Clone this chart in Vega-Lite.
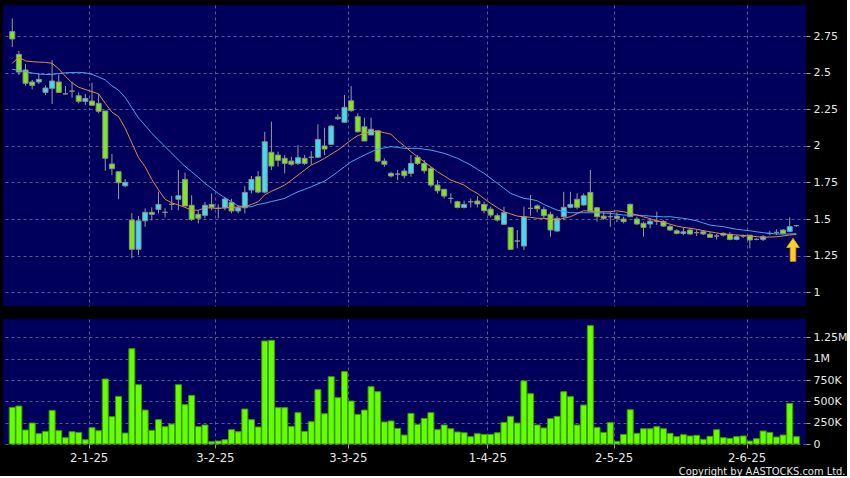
{
"$schema": "https://vega.github.io/schema/vega-lite/v6.json",
"background": "black",
"padding": {"left": 3, "top": 5, "right": 0, "bottom": 0},
"spacing": 13,
"config": {
  "view": {"fill": "#00005c", "stroke": null},
  "axis": {"gridColor": "#5a5a8e", "gridDash": [3, 3], "gridWidth": 1, "labelColor": "#e6e6e6", "tickColor": "#9a9a9a", "domain": false, "labelFont": "DejaVu Sans", "labelFontSize": 11}
},
"datasets": {"k": [
{"i":0,"o":2.78,"h":2.87,"l":2.675,"c":2.73,"v":429000,"m1":2.564,"m2":2.523},
{"i":1,"o":2.625,"h":2.648,"l":2.484,"c":2.504,"v":445000,"m1":2.605,"m2":2.515},
{"i":2,"o":2.518,"h":2.559,"l":2.41,"c":2.427,"v":164000,"m1":2.58,"m2":2.506},
{"i":3,"o":2.436,"h":2.45,"l":2.386,"c":2.413,"v":246000,"m1":2.575,"m2":2.498},
{"i":4,"o":2.436,"h":2.495,"l":2.422,"c":2.454,"v":121000,"m1":2.572,"m2":2.49},
{"i":5,"o":2.365,"h":2.413,"l":2.347,"c":2.395,"v":148000,"m1":2.57,"m2":2.488},
{"i":6,"o":2.393,"h":2.586,"l":2.286,"c":2.443,"v":394000,"m1":2.564,"m2":2.488},
{"i":7,"o":2.436,"h":2.488,"l":2.365,"c":2.365,"v":156000,"m1":2.525,"m2":2.494},
{"i":8,"o":2.355,"h":2.408,"l":2.35,"c":2.355,"v":74000,"m1":2.475,"m2":2.499},
{"i":9,"o":2.374,"h":2.438,"l":2.329,"c":2.374,"v":144000,"m1":2.43,"m2":2.501},
{"i":10,"o":2.342,"h":2.365,"l":2.29,"c":2.304,"v":136000,"m1":2.40,"m2":2.502},
{"i":11,"o":2.304,"h":2.354,"l":2.28,"c":2.324,"v":50000,"m1":2.385,"m2":2.499},
{"i":12,"o":2.306,"h":2.431,"l":2.277,"c":2.277,"v":191000,"m1":2.37,"m2":2.488},
{"i":13,"o":2.29,"h":2.354,"l":2.222,"c":2.236,"v":156000,"m1":2.355,"m2":2.47},
{"i":14,"o":2.238,"h":2.238,"l":1.83,"c":1.915,"v":762000,"m1":2.29,"m2":2.45},
{"i":15,"o":1.876,"h":1.944,"l":1.80,"c":1.844,"v":320000,"m1":2.23,"m2":2.41},
{"i":16,"o":1.823,"h":1.823,"l":1.635,"c":1.748,"v":558000,"m1":2.20,"m2":2.38},
{"i":17,"o":1.727,"h":1.773,"l":1.717,"c":1.751,"v":129000,"m1":2.12,"m2":2.33},
{"i":18,"o":1.493,"h":1.541,"l":1.232,"c":1.293,"v":1117000,"m1":2.02,"m2":2.26},
{"i":19,"o":1.293,"h":1.52,"l":1.254,"c":1.488,"v":695000,"m1":1.92,"m2":2.19},
{"i":20,"o":1.488,"h":1.573,"l":1.447,"c":1.546,"v":398000,"m1":1.857,"m2":2.14},
{"i":21,"o":1.546,"h":1.58,"l":1.49,"c":1.532,"v":160000,"m1":1.77,"m2":2.085},
{"i":22,"o":1.566,"h":1.686,"l":1.539,"c":1.60,"v":285000,"m1":1.70,"m2":2.04},
{"i":23,"o":1.546,"h":1.573,"l":1.512,"c":1.546,"v":203000,"m1":1.635,"m2":1.994},
{"i":24,"o":1.60,"h":1.657,"l":1.562,"c":1.60,"v":234000,"m1":1.61,"m2":1.95},
{"i":25,"o":1.635,"h":1.835,"l":1.56,"c":1.659,"v":695000,"m1":1.596,"m2":1.903},
{"i":26,"o":1.771,"h":1.817,"l":1.589,"c":1.589,"v":461000,"m1":1.58,"m2":1.86},
{"i":27,"o":1.594,"h":1.662,"l":1.486,"c":1.498,"v":570000,"m1":1.56,"m2":1.823},
{"i":28,"o":1.532,"h":1.56,"l":1.47,"c":1.505,"v":203000,"m1":1.56,"m2":1.785},
{"i":29,"o":1.525,"h":1.616,"l":1.505,"c":1.594,"v":223000,"m1":1.577,"m2":1.744},
{"i":30,"o":1.60,"h":1.675,"l":1.56,"c":1.58,"v":27000,"m1":1.575,"m2":1.71},
{"i":31,"o":1.573,"h":1.60,"l":1.505,"c":1.573,"v":35000,"m1":1.573,"m2":1.675},
{"i":32,"o":1.577,"h":1.652,"l":1.56,"c":1.637,"v":50000,"m1":1.576,"m2":1.645},
{"i":33,"o":1.614,"h":1.639,"l":1.539,"c":1.555,"v":168000,"m1":1.58,"m2":1.618},
{"i":34,"o":1.555,"h":1.589,"l":1.539,"c":1.577,"v":144000,"m1":1.582,"m2":1.59},
{"i":35,"o":1.577,"h":1.725,"l":1.539,"c":1.682,"v":410000,"m1":1.584,"m2":1.584},
{"i":36,"o":1.698,"h":1.794,"l":1.675,"c":1.771,"v":285000,"m1":1.60,"m2":1.584},
{"i":37,"o":1.789,"h":1.827,"l":1.675,"c":1.684,"v":199000,"m1":1.618,"m2":1.60},
{"i":38,"o":1.684,"h":2.096,"l":1.675,"c":2.028,"v":1207000,"m1":1.665,"m2":1.607},
{"i":39,"o":1.956,"h":2.165,"l":1.835,"c":1.862,"v":1215000,"m1":1.69,"m2":1.62},
{"i":40,"o":1.937,"h":1.96,"l":1.857,"c":1.901,"v":426000,"m1":1.71,"m2":1.63},
{"i":41,"o":1.915,"h":1.937,"l":1.812,"c":1.88,"v":426000,"m1":1.732,"m2":1.641},
{"i":42,"o":1.896,"h":1.925,"l":1.864,"c":1.874,"v":207000,"m1":1.765,"m2":1.665},
{"i":43,"o":1.88,"h":2.005,"l":1.869,"c":1.919,"v":367000,"m1":1.80,"m2":1.686},
{"i":44,"o":1.915,"h":1.937,"l":1.869,"c":1.88,"v":148000,"m1":1.835,"m2":1.703},
{"i":45,"o":1.922,"h":1.964,"l":1.869,"c":1.922,"v":261000,"m1":1.869,"m2":1.72},
{"i":46,"o":1.922,"h":2.147,"l":1.922,"c":2.044,"v":637000,"m1":1.89,"m2":1.74},
{"i":47,"o":1.999,"h":2.124,"l":1.937,"c":1.978,"v":355000,"m1":1.915,"m2":1.759},
{"i":48,"o":2.01,"h":2.142,"l":2.01,"c":2.135,"v":789000,"m1":1.943,"m2":1.79},
{"i":49,"o":2.185,"h":2.215,"l":2.176,"c":2.195,"v":543000,"m1":1.971,"m2":1.823},
{"i":50,"o":2.161,"h":2.347,"l":2.161,"c":2.263,"v":848000,"m1":2.005,"m2":1.857},
{"i":51,"o":2.308,"h":2.408,"l":2.233,"c":2.24,"v":504000,"m1":2.04,"m2":1.891},
{"i":52,"o":2.199,"h":2.222,"l":2.092,"c":2.096,"v":347000,"m1":2.07,"m2":1.914},
{"i":53,"o":2.13,"h":2.192,"l":2.033,"c":2.033,"v":398000,"m1":2.085,"m2":1.937},
{"i":54,"o":2.074,"h":2.192,"l":2.074,"c":2.113,"v":672000,"m1":2.096,"m2":1.958},
{"i":55,"o":2.103,"h":2.103,"l":1.887,"c":1.896,"v":613000,"m1":2.10,"m2":1.978},
{"i":56,"o":1.896,"h":1.915,"l":1.857,"c":1.874,"v":258000,"m1":2.09,"m2":1.986},
{"i":57,"o":1.812,"h":1.823,"l":1.785,"c":1.794,"v":270000,"m1":2.079,"m2":1.994},
{"i":58,"o":1.807,"h":1.835,"l":1.766,"c":1.807,"v":183000,"m1":2.035,"m2":1.99},
{"i":59,"o":1.828,"h":1.846,"l":1.778,"c":1.796,"v":105000,"m1":2.0,"m2":1.983},
{"i":60,"o":1.812,"h":1.937,"l":1.789,"c":1.88,"v":359000,"m1":1.96,"m2":1.983},
{"i":61,"o":1.922,"h":1.937,"l":1.869,"c":1.88,"v":230000,"m1":1.925,"m2":1.983},
{"i":62,"o":1.88,"h":1.903,"l":1.812,"c":1.83,"v":300000,"m1":1.891,"m2":1.977},
{"i":63,"o":1.846,"h":1.857,"l":1.717,"c":1.732,"v":367000,"m1":1.857,"m2":1.971},
{"i":64,"o":1.732,"h":1.766,"l":1.675,"c":1.693,"v":168000,"m1":1.823,"m2":1.96},
{"i":65,"o":1.703,"h":1.703,"l":1.641,"c":1.657,"v":223000,"m1":1.795,"m2":1.949},
{"i":66,"o":1.641,"h":1.675,"l":1.607,"c":1.641,"v":179000,"m1":1.766,"m2":1.932},
{"i":67,"o":1.618,"h":1.625,"l":1.573,"c":1.579,"v":141000,"m1":1.75,"m2":1.915},
{"i":68,"o":1.579,"h":1.625,"l":1.573,"c":1.60,"v":132000,"m1":1.732,"m2":1.892},
{"i":69,"o":1.618,"h":1.641,"l":1.579,"c":1.618,"v":86000,"m1":1.70,"m2":1.869},
{"i":70,"o":1.623,"h":1.657,"l":1.579,"c":1.603,"v":121000,"m1":1.675,"m2":1.84},
{"i":71,"o":1.60,"h":1.618,"l":1.539,"c":1.557,"v":113000,"m1":1.64,"m2":1.812},
{"i":72,"o":1.568,"h":1.584,"l":1.512,"c":1.527,"v":113000,"m1":1.607,"m2":1.778},
{"i":73,"o":1.523,"h":1.539,"l":1.482,"c":1.493,"v":132000,"m1":1.578,"m2":1.744},
{"i":74,"o":1.464,"h":1.584,"l":1.464,"c":1.543,"v":253000,"m1":1.55,"m2":1.71},
{"i":75,"o":1.443,"h":1.443,"l":1.288,"c":1.293,"v":324000,"m1":1.535,"m2":1.675},
{"i":76,"o":1.35,"h":1.425,"l":1.30,"c":1.35,"v":246000,"m1":1.52,"m2":1.658},
{"i":77,"o":1.316,"h":1.584,"l":1.288,"c":1.516,"v":739000,"m1":1.515,"m2":1.641},
{"i":78,"o":1.573,"h":1.664,"l":1.523,"c":1.573,"v":590000,"m1":1.512,"m2":1.635},
{"i":79,"o":1.59,"h":1.60,"l":1.545,"c":1.57,"v":223000,"m1":1.505,"m2":1.625},
{"i":80,"o":1.566,"h":1.584,"l":1.505,"c":1.523,"v":188000,"m1":1.505,"m2":1.60},
{"i":81,"o":1.532,"h":1.55,"l":1.379,"c":1.425,"v":297000,"m1":1.50,"m2":1.58},
{"i":82,"o":1.418,"h":1.52,"l":1.413,"c":1.505,"v":324000,"m1":1.493,"m2":1.561},
{"i":83,"o":1.516,"h":1.686,"l":1.493,"c":1.58,"v":613000,"m1":1.505,"m2":1.552},
{"i":84,"o":1.58,"h":1.686,"l":1.573,"c":1.60,"v":555000,"m1":1.516,"m2":1.543},
{"i":85,"o":1.635,"h":1.675,"l":1.566,"c":1.58,"v":223000,"m1":1.537,"m2":1.543},
{"i":86,"o":1.596,"h":1.675,"l":1.591,"c":1.659,"v":457000,"m1":1.557,"m2":1.543},
{"i":87,"o":1.682,"h":1.835,"l":1.55,"c":1.555,"v":1387000,"m1":1.553,"m2":1.543},
{"i":88,"o":1.577,"h":1.584,"l":1.482,"c":1.516,"v":195000,"m1":1.55,"m2":1.543},
{"i":89,"o":1.52,"h":1.55,"l":1.493,"c":1.505,"v":136000,"m1":1.55,"m2":1.541},
{"i":90,"o":1.516,"h":1.55,"l":1.447,"c":1.516,"v":250000,"m1":1.55,"m2":1.539},
{"i":91,"o":1.52,"h":1.545,"l":1.48,"c":1.505,"v":31000,"m1":1.556,"m2":1.533},
{"i":92,"o":1.50,"h":1.516,"l":1.47,"c":1.482,"v":113000,"m1":1.55,"m2":1.527},
{"i":93,"o":1.60,"h":1.607,"l":1.516,"c":1.516,"v":402000,"m1":1.539,"m2":1.527},
{"i":94,"o":1.50,"h":1.516,"l":1.46,"c":1.466,"v":125000,"m1":1.528,"m2":1.527},
{"i":95,"o":1.471,"h":1.482,"l":1.379,"c":1.443,"v":179000,"m1":1.516,"m2":1.524},
{"i":96,"o":1.466,"h":1.505,"l":1.436,"c":1.486,"v":179000,"m1":1.502,"m2":1.52},
{"i":97,"o":1.486,"h":1.55,"l":1.46,"c":1.486,"v":203000,"m1":1.486,"m2":1.517},
{"i":98,"o":1.484,"h":1.493,"l":1.447,"c":1.452,"v":179000,"m1":1.478,"m2":1.515},
{"i":99,"o":1.448,"h":1.46,"l":1.418,"c":1.425,"v":125000,"m1":1.465,"m2":1.516},
{"i":100,"o":1.42,"h":1.43,"l":1.395,"c":1.402,"v":86000,"m1":1.452,"m2":1.51},
{"i":101,"o":1.402,"h":1.44,"l":1.39,"c":1.413,"v":109000,"m1":1.443,"m2":1.505},
{"i":102,"o":1.425,"h":1.44,"l":1.39,"c":1.398,"v":94000,"m1":1.437,"m2":1.497},
{"i":103,"o":1.407,"h":1.43,"l":1.384,"c":1.407,"v":102000,"m1":1.43,"m2":1.488},
{"i":104,"o":1.413,"h":1.425,"l":1.39,"c":1.398,"v":54000,"m1":1.421,"m2":1.473},
{"i":105,"o":1.396,"h":1.41,"l":1.37,"c":1.375,"v":90000,"m1":1.413,"m2":1.459},
{"i":106,"o":1.384,"h":1.398,"l":1.36,"c":1.384,"v":168000,"m1":1.405,"m2":1.453},
{"i":107,"o":1.402,"h":1.41,"l":1.38,"c":1.39,"v":74000,"m1":1.398,"m2":1.448},
{"i":108,"o":1.396,"h":1.41,"l":1.355,"c":1.361,"v":66000,"m1":1.394,"m2":1.439},
{"i":109,"o":1.361,"h":1.39,"l":1.355,"c":1.379,"v":86000,"m1":1.391,"m2":1.43},
{"i":110,"o":1.384,"h":1.395,"l":1.37,"c":1.384,"v":94000,"m1":1.388,"m2":1.425},
{"i":111,"o":1.39,"h":1.39,"l":1.30,"c":1.357,"v":35000,"m1":1.384,"m2":1.42},
{"i":112,"o":1.361,"h":1.37,"l":1.355,"c":1.361,"v":62000,"m1":1.38,"m2":1.413},
{"i":113,"o":1.361,"h":1.39,"l":1.35,"c":1.379,"v":152000,"m1":1.375,"m2":1.407},
{"i":114,"o":1.402,"h":1.42,"l":1.39,"c":1.402,"v":136000,"m1":1.377,"m2":1.402},
{"i":115,"o":1.409,"h":1.43,"l":1.39,"c":1.409,"v":82000,"m1":1.379,"m2":1.398},
{"i":116,"o":1.425,"h":1.43,"l":1.395,"c":1.402,"v":105000,"m1":1.385,"m2":1.398},
{"i":117,"o":1.416,"h":1.512,"l":1.41,"c":1.448,"v":476000,"m1":1.391,"m2":1.398},
{"i":118,"o":1.455,"h":1.46,"l":1.446,"c":1.455,"v":86000,"m1":1.395,"m2":1.40}
]},
"vconcat": [
{
  "width": 803, "height": 301,
  "data": {"name": "k"},
  "encoding": {
    "x": {"field": "i", "type": "quantitative", "scale": {"domain": [-0.64, 118.7], "nice": false, "zero": false},
      "axis": {"values": [11.5, 30.5, 50.5, 71.5, 90.5, 110.5], "grid": true, "labels": false, "ticks": false, "domain": false, "title": null}}
  },
  "layer": [
    {"mark": {"type": "rule", "color": "#9a9a9a", "strokeWidth": 1},
     "encoding": {
       "y": {"field": "l", "type": "quantitative", "title": null, "scale": {"domain": [0.906, 2.962], "nice": false, "zero": false},
         "axis": {"orient": "right", "values": [1, 1.25, 1.5, 1.75, 2, 2.25, 2.5, 2.75], "labelExpr": "format(datum.value, '.2~f')", "grid": true, "tickSize": 4, "labelPadding": 3, "title": null}},
       "y2": {"field": "h"}}},
    {"mark": {"type": "bar", "width": 5, "stroke": "#8c8c8c", "strokeWidth": 1},
     "encoding": {
       "y": {"field": "o", "type": "quantitative", "title": null,
         "axis": {"orient": "right", "values": [1, 1.25, 1.5, 1.75, 2, 2.25, 2.5, 2.75], "labelExpr": "format(datum.value, '.2~f')", "grid": true, "tickSize": 4, "labelPadding": 3, "title": null}},
       "y2": {"field": "c"},
       "fill": {"condition": [{"test": "datum.c > datum.o", "value": "#3fdcf2"}, {"test": "datum.c < datum.o", "value": "#7ee81c"}], "value": "#8c8c8c"}}},
    {"mark": {"type": "line", "color": "#3fa9f0", "strokeWidth": 1},
     "encoding": {"y": {"field": "m2", "type": "quantitative", "title": null,
         "axis": {"orient": "right", "values": [1, 1.25, 1.5, 1.75, 2, 2.25, 2.5, 2.75], "labelExpr": "format(datum.value, '.2~f')", "grid": true, "tickSize": 4, "labelPadding": 3, "title": null}}}},
    {"mark": {"type": "line", "color": "#e2884a", "strokeWidth": 1},
     "encoding": {"y": {"field": "m1", "type": "quantitative", "title": null,
         "axis": {"orient": "right", "values": [1, 1.25, 1.5, 1.75, 2, 2.25, 2.5, 2.75], "labelExpr": "format(datum.value, '.2~f')", "grid": true, "tickSize": 4, "labelPadding": 3, "title": null}}}},
    {"data": {"values": [{"i": 117.5, "p": 1.29}]},
     "mark": {"type": "point", "shape": "M0,-1 L0.55,-0.2 L0.24,-0.2 L0.24,1 L-0.24,1 L-0.24,-0.2 L-0.55,-0.2 Z", "size": 529, "filled": true, "fill": "#ffcc33", "stroke": "#d99a00", "strokeWidth": 1, "opacity": 1},
     "encoding": {"y": {"field": "p", "type": "quantitative", "title": null,
         "axis": {"orient": "right", "values": [1, 1.25, 1.5, 1.75, 2, 2.25, 2.5, 2.75], "labelExpr": "format(datum.value, '.2~f')", "grid": true, "tickSize": 4, "labelPadding": 3, "title": null}}}}
  ]
},
{
  "width": 803, "height": 125,
  "data": {"name": "k"},
  "mark": {"type": "bar", "width": 6, "fill": "#66ff00", "stroke": "#3c9a00", "strokeWidth": 1},
  "encoding": {
    "x": {"field": "i", "type": "quantitative", "scale": {"domain": [-0.64, 118.7], "nice": false, "zero": false},
      "axis": {"values": [11.5, 30.5, 50.5, 71.5, 90.5, 110.5], "grid": true, "ticks": true, "tickSize": 4, "labelPadding": 3,
        "labelFont": "DejaVu Sans Condensed", "labelFontSize": 13,
        "labelExpr": "datum.value == 11.5 ? '2-1-25' : datum.value == 30.5 ? '3-2-25' : datum.value == 50.5 ? '3-3-25' : datum.value == 71.5 ? '1-4-25' : datum.value == 90.5 ? '2-5-25' : '2-6-25'",
        "title": "Copyright by AASTOCKS.com Ltd.", "titleAnchor": "end", "titleAlign": "right", "titleX": 842, "titleY": 30, "titleBaseline": "alphabetic",
        "titleFont": "DejaVu Sans Condensed", "titleFontSize": 11, "titleFontWeight": "normal", "titleColor": "#e6e6e6"}},
    "y": {"field": "v", "type": "quantitative", "title": null, "scale": {"domain": [0, 1465000], "nice": false, "zero": true},
      "axis": {"orient": "right", "values": [0, 250000, 500000, 750000, 1000000, 1250000], "grid": true, "tickSize": 4, "labelPadding": 3,
        "labelExpr": "datum.value == 0 ? '0' : datum.value >= 1000000 ? format(datum.value / 1000000, '~g') + 'M' : format(datum.value / 1000, '~g') + 'K'"}}
  }
}
]
}
